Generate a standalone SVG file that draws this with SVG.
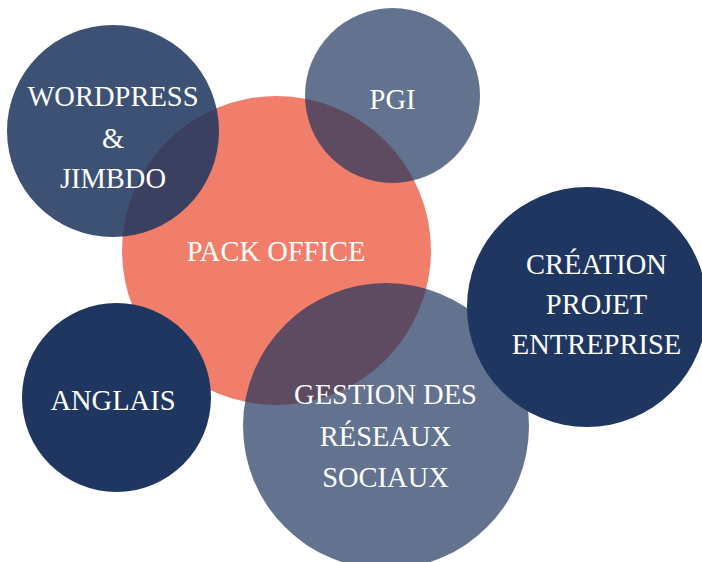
<svg xmlns="http://www.w3.org/2000/svg" width="702" height="562" viewBox="0 0 702 562">
<style>
.t{font-family:"Liberation Serif","Times New Roman",serif;font-size:28.5px;fill:#ffffff;text-anchor:middle}
.dark{fill:#1F3660}
</style>
<rect width="702" height="562" fill="#ffffff"/>
<g id="pack-office">
<circle cx="276.5" cy="250.5" r="154.5" fill="#F07E6A"/>
</g>
<g id="wordpress">
<circle cx="113" cy="131" r="106" fill="#1F3660" fill-opacity="0.865"/>
</g>
<g id="pgi">
<circle cx="392.5" cy="95.5" r="87.5" fill="#1F3660" fill-opacity="0.7"/>
</g>
<g id="gestion">
<circle cx="386" cy="426" r="143" fill="#1F3660" fill-opacity="0.7"/>
</g>
<g id="anglais">
<circle cx="116.5" cy="397.5" r="94.5" class="dark"/>
</g>
<g id="creation">
<circle cx="587" cy="307" r="120" class="dark"/>
</g>
<g id="labels">
<text class="t" x="276" y="261">PACK OFFICE</text>
<text class="t" x="113" y="106">WORDPRESS</text>
<text class="t" x="113" y="148">&amp;</text>
<text class="t" x="113" y="188">JIMBDO</text>
<text class="t" x="392.5" y="109">PGI</text>
<text class="t" x="596.5" y="274">CRÉATION</text>
<text class="t" x="596.5" y="314">PROJET</text>
<text class="t" x="596.5" y="354">ENTREPRISE</text>
<text class="t" x="385.5" y="404">GESTION DES</text>
<text class="t" x="385.5" y="446">RÉSEAUX</text>
<text class="t" x="385.5" y="487">SOCIAUX</text>
<text class="t" x="113" y="410">ANGLAIS</text>
</g>
<g id="connectors"/>
</svg>
